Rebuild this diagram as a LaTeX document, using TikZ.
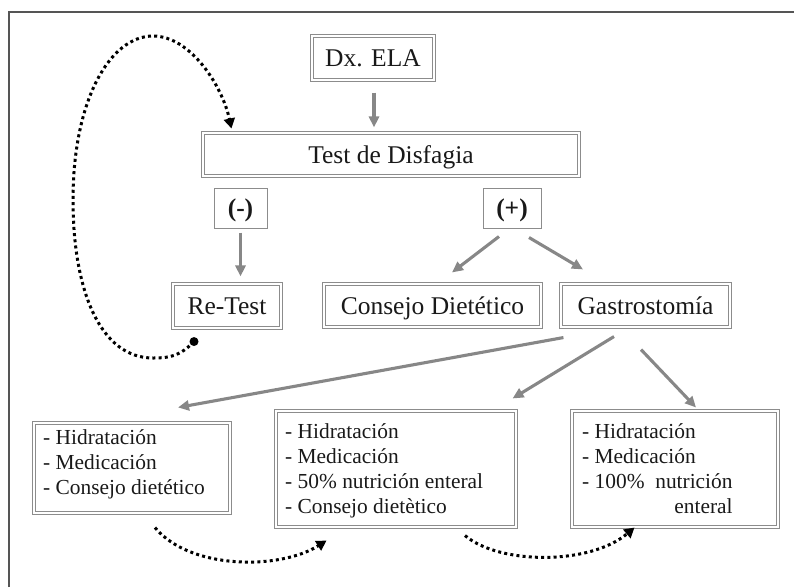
\documentclass[tikz,border=0pt]{standalone}
\usepackage{fontspec}
\setmainfont{Liberation Serif}
\usetikzlibrary{arrows.meta,calc}
\definecolor{arrgray}{RGB}{135,135,135}
\definecolor{boxgray}{RGB}{140,140,140}
\definecolor{framegray}{RGB}{85,85,85}
\definecolor{txtcol}{RGB}{25,25,25}
\newcommand{\bigtxt}{\fontsize{25.5}{30}\selectfont}
\newcommand{\listtxt}{\fontsize{21.4}{25}\selectfont}
\begin{document}
\begin{tikzpicture}[x=1pt,y=-1pt,
  dbox/.style={draw=boxgray, double=white, line width=1.1pt, double distance=1.6pt,
    inner sep=0pt, font=\bigtxt, text=txtcol, text height=19pt, text depth=2pt},
  sbox/.style={draw=boxgray, line width=1pt, inner sep=0pt, font=\bigtxt\bfseries,
    text=txtcol, text height=19pt, text depth=2pt},
  garrow/.style={draw=arrgray, line width=3.1pt, -{Triangle[length=11pt,width=10pt]}},
  dotarrow/.style={draw=black, line width=3pt, dash pattern=on 3pt off 3.2pt,
    -{Triangle[length=10pt,width=11pt]}},
  listtext/.style={anchor=base west, inner sep=0pt, font=\listtxt, text=txtcol}
]
\useasboundingbox (0,0) rectangle (794,587);
% frame
\draw[framegray, line width=1.8pt] (9,587) -- (9,12) -- (794,12);

% nodes
\node[dbox, minimum width=122pt, minimum height=44pt] (ela) at (373,58) {Dx. ELA};
\node[dbox, minimum width=376pt, minimum height=43pt] (test) at (391,154.5) {Test de Disfagia};
\node[sbox, minimum width=53pt, minimum height=40pt] (minus) at (240.5,208) {(-)};
\node[sbox, minimum width=58pt, minimum height=40pt] (plus) at (512,208) {(+)};
\node[dbox, minimum width=108pt, minimum height=44pt] (retest) at (227,306) {Re-Test};
\node[dbox, minimum width=217pt, minimum height=43pt] (cons) at (432.5,305.5) {Consejo Dietético};
\node[dbox, minimum width=169pt, minimum height=43pt] (gas) at (645.5,305.5) {Gastrostomía};

\node[dbox, minimum width=196pt, minimum height=90pt] (box1) at (132,468) {};
\node[dbox, minimum width=240pt, minimum height=116pt] (box2) at (396,469) {};
\node[dbox, minimum width=206pt, minimum height=116pt] (box3) at (675,469) {};

\node[listtext] (t1) at (43,444) {\begin{tabular}[t]{@{}l@{}}- Hidratación\\- Medicación\\- Consejo dietético\end{tabular}};
\node[listtext] (t2) at (285,438) {\begin{tabular}[t]{@{}l@{}}- Hidratación\\- Medicación\\- 50\% nutrición enteral\\- Consejo dietètico\end{tabular}};
\node[listtext] (t3) at (582,438) {\begin{tabular}[t]{@{}l@{}}- Hidratación\\- Medicación\\- 100\%\ \ nutrición\\\hfill enteral\end{tabular}};

% gray arrows
\draw[garrow] ($(ela.south)+(1,12)$) -- ($(ela.south |- test.north)+(1,-5)$);
\draw[garrow] ($(minus.south)+(0,4)$) -- ($(minus.south |- retest.north)+(0,-7)$);
\draw[garrow] ($(plus.south)+(-13,8)$) -- ($(cons.north)+(19.5,-11)$);
\draw[garrow] ($(plus.south)+(17,9)$) -- ($(gas.north)+(-62.5,-14)$);
\draw[garrow] ($(gas.south west)+(3,10)$) -- ($(box1.north)+(46,-15)$);
\draw[garrow] ($(gas.south)+(-31.5,9)$) -- ($(box2.north east)+(-4,-12)$);
\draw[garrow] ($(gas.south)+(-4.5,22)$) -- ($(box3.north)+(21,-3)$);

% dotted loop
\coordinate (loopstart) at ($(retest.south)+(-33,13)$);
\coordinate (loopend) at ($(test.north west)+(29,-4)$);
\fill (loopstart) circle (4.5);
\draw[dotarrow] (loopstart) .. controls (180,356) and (170,358) .. (153,358)
  .. controls (100,358) and (73,290) .. (73,200)
  .. controls (73,100) and (110,36) .. (153,36)
  .. controls (190,36) and (222,85) .. (loopend);

% dotted bottom arrows
\draw[dotarrow] ($(box1.south)+(23,14)$) .. controls (190,570) and (280,570) .. ($(box2.south west)+(51,13)$);
\draw[dotarrow] ($(box2.south)+(69,8)$) .. controls (500,565) and (590,565) .. ($(box3.south west)+(63,0)$);
\end{tikzpicture}
\end{document}
